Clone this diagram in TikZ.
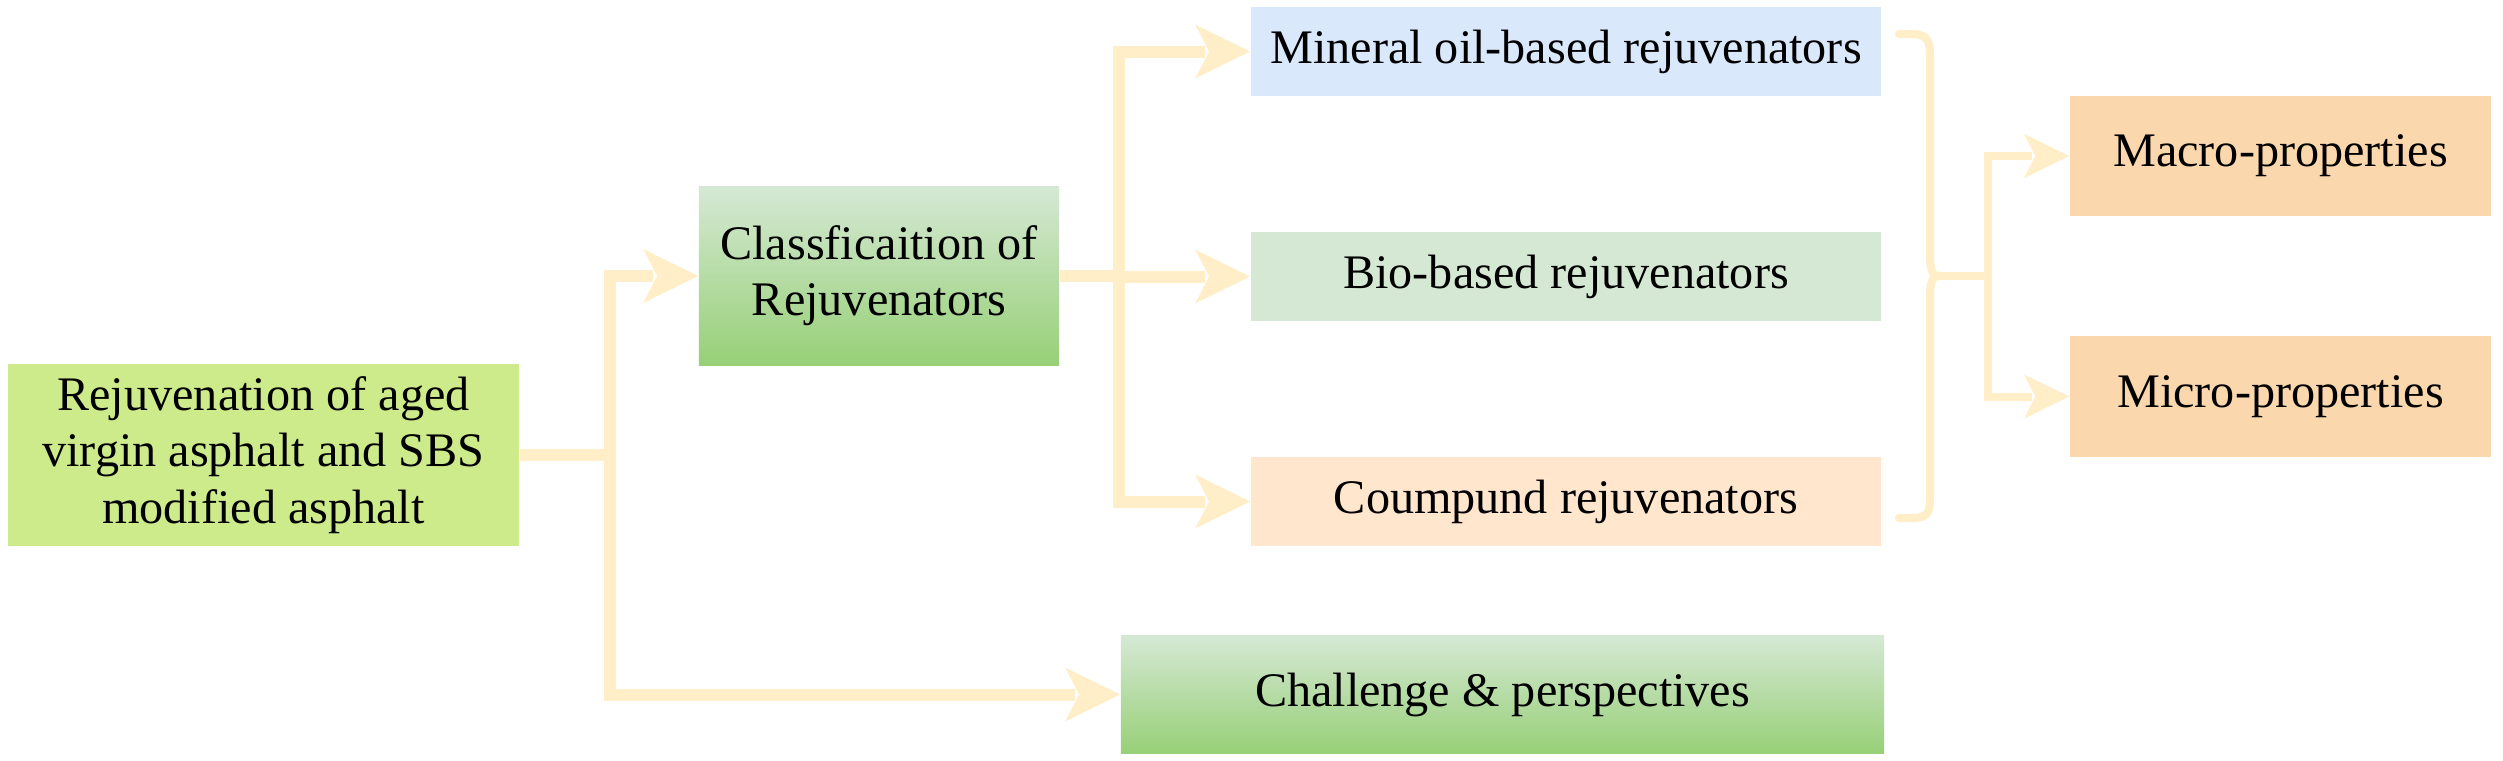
\documentclass[tikz,border=0pt]{standalone}
\usepackage{fontspec}
\setmainfont{Liberation Serif}
\usetikzlibrary{arrows.meta}
\definecolor{cline}{RGB}{255,238,200}
\definecolor{limeg}{HTML}{CDEB8B}
\definecolor{grtop}{HTML}{D5E8D4}
\definecolor{grbot}{HTML}{97D077}
\definecolor{blueb}{HTML}{DAE8FC}
\definecolor{greenb}{HTML}{D5E8D4}
\definecolor{peachb}{HTML}{FFE6CC}
\definecolor{orangeb}{HTML}{FAD7AC}
\begin{document}
\begin{tikzpicture}[x=0.01cm,y=-0.01cm,
  box/.style={rectangle, inner sep=0pt, align=center, font=\fontsize{13.7}{16}\selectfont, text=black},
  conn/.style={draw=cline, line width=0.12cm},
  connb/.style={draw=cline, line width=0.08cm},
  gradbox/.style={box, top color=grtop, bottom color=grbot},
  bighead/.pic={\fill[cline] (0,0) -- (-55,-27) -- (-41,0) -- (-55,27) -- cycle;},
  smallhead/.pic={\fill[cline] (0,0) -- (-45,-22) -- (-34,0) -- (-45,22) -- cycle;}]
\useasboundingbox[fill=white] (0,0) rectangle (2503,760);

\node[box, fill=limeg, minimum width=5.11cm, minimum height=1.82cm] (rej) at (263.5,455)
  {Rejuvenation of aged\\virgin asphalt and SBS\\modified asphalt};
\node[gradbox, minimum width=3.60cm, minimum height=1.78cm] (cls) at (879,276)
  {Classficaition of\\Rejuvenators};
\node[box, fill=blueb, minimum width=6.30cm, minimum height=0.89cm] (min) at (1566,51.5)
  {Mineral oil-based rejuvenators};
\node[box, fill=greenb, minimum width=6.30cm, minimum height=0.89cm] (bio) at (1566,276.5)
  {Bio-based rejuvenators};
\node[box, fill=peachb, minimum width=6.30cm, minimum height=0.89cm] (com) at (1566,501.5)
  {Coumpund rejuvenators};
\node[gradbox, minimum width=7.63cm, minimum height=1.17cm] (cha) at (1502.5,694.5)
  {Challenge \& perspectives};
\node[box, fill=orangeb, minimum width=4.21cm, minimum height=1.20cm] (mac) at (2280.5,156)
  {Macro-properties};
\node[box, fill=orangeb, minimum width=4.21cm, minimum height=1.20cm] (mic) at (2280.5,396.5)
  {Micro-properties};

% left tree
\coordinate (t1) at (610,455);
\draw[conn] (rej.east) -- (t1);
\draw[conn] (t1) |- ([xshift=-0.45cm]cls.west);
\draw[conn] (t1) |- ([xshift=-0.45cm]cha.west);
\pic at (cls.west) {bighead};
\pic at (cha.west) {bighead};

% middle tree
\coordinate (t2) at (1119,276);
\draw[conn] (cls.east) -- (t2);
\draw[conn] (t2) |- ([xshift=-0.45cm]min.west);
\draw[conn] (t2) |- ([xshift=-0.45cm]bio.west);
\draw[conn] (t2) |- ([xshift=-0.45cm]com.west);
\pic at (min.west) {bighead};
\pic at (bio.west) {bighead};
\pic at (com.west) {bighead};

% brace
\draw[connb, line join=round, line cap=round]
  (1899,34) -- (1912,34) .. controls (1928,34) and (1930,42) .. (1930,56)
  -- (1930,256) .. controls (1930,270) and (1933,276) .. (1938,276)
  .. controls (1933,276) and (1930,282) .. (1930,296)
  -- (1930,498) .. controls (1930,512) and (1928,518) .. (1912,518) -- (1899,518);

% right tree
\coordinate (bt) at (1936,276);
\coordinate (t3) at (1988,276);
\draw[connb] (bt) -- (t3);
\draw[connb] (t3) |- ([xshift=-0.37cm]mac.west);
\draw[connb] (t3) |- ([xshift=-0.37cm]mic.west);
\pic at (mac.west) {smallhead};
\pic at (mic.west) {smallhead};
\end{tikzpicture}
\end{document}
